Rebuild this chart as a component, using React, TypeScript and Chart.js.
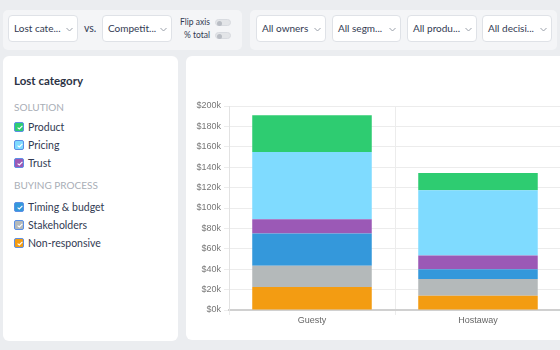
import React, { useEffect, useRef } from "react";
import { Chart, registerables } from "chart.js";

Chart.register(...registerables);

const categories = ["Guesty", "Hostaway"];
const nonResponsive = [22500, 14000];
const stakeholders = [21000, 16400];
const timingBudget = [31500, 9600];
const trust = [14000, 13400];
const pricing = [66000, 64000];
const product = [36000, 17000];

const seriesNames = ["Non-responsive", "Stakeholders", "Timing & budget", "Trust", "Pricing", "Product"];
const seriesColors = ["#f39c12", "#b4b9ba", "#3498db", "#9b59b6", "#7fdbff", "#2ecc71"];
const yMax = 200000;
const yStep = 20000;

const dropdownsLeft = ["Lost cate...", "Competit..."];
const dropdownsRight = ["All owners", "All segm...", "All produ...", "All decisi..."];

const solutionItems = [
  { name: "Product", color: "#2ecc71" },
  { name: "Pricing", color: "#7fdbff" },
  { name: "Trust", color: "#9b59b6" },
];
const buyingItems = [
  { name: "Timing & budget", color: "#3498db" },
  { name: "Stakeholders", color: "#b4b9ba" },
  { name: "Non-responsive", color: "#f39c12" },
];

const UI_FONT = "Lato, 'Open Sans', sans-serif";

function Chevron({ x, y }: { x: number; y: number }) {
  return (
    <svg style={{ position: "absolute", left: x, top: y }} width={7} height={5} viewBox="0 0 7 5">
      <polyline points="0.5,1 3.5,4 6.5,1" fill="none" stroke="#9aa0aa" strokeWidth={1} />
    </svg>
  );
}

function Dropdown({ left, top, width, text }: { left: number; top: number; width: number; text: string }) {
  return (
    <div
      style={{
        position: "absolute",
        left,
        top,
        width,
        height: 27,
        boxSizing: "border-box",
        background: "#fff",
        border: "1px solid #dfe2e7",
        borderRadius: 4,
        fontFamily: UI_FONT,
        fontSize: 10,
        color: "#323a52",
      }}
    >
      <div style={{ position: "absolute", left: 5, top: 0, lineHeight: "25px", whiteSpace: "nowrap" }}>{text}</div>
      <Chevron x={width - 13} y={11} />
    </div>
  );
}

function Toggle({ left, top }: { left: number; top: number }) {
  return (
    <div
      style={{
        position: "absolute",
        left,
        top,
        width: 16,
        height: 7,
        borderRadius: 4,
        background: "#e3e5e8",
        border: "1px solid #d8dbe0",
        boxSizing: "border-box",
      }}
    >
      <div
        style={{
          position: "absolute",
          left: 1,
          top: 0.5,
          width: 5,
          height: 5,
          borderRadius: 3,
          background: "#b9bdc4",
        }}
      />
    </div>
  );
}

function CheckItem({ top, name, color }: { top: number; name: string; color: string }) {
  return (
    <div style={{ position: "absolute", left: 14, top: top - 6, height: 12, whiteSpace: "nowrap" }}>
      <div
        style={{
          position: "absolute",
          left: 0,
          top: 1,
          width: 10,
          height: 10,
          boxSizing: "border-box",
          borderRadius: 2,
          background: color,
          border: "1px solid #5b8fe6",
        }}
      >
        <svg style={{ position: "absolute", left: 1.5, top: 2 }} width={6} height={5} viewBox="0 0 6 5">
          <polyline points="0.6,2.6 2.3,4 5.4,0.8" fill="none" stroke="#fff" strokeWidth={1.1} />
        </svg>
      </div>
      <div
        style={{
          position: "absolute",
          left: 14,
          top: 0,
          lineHeight: "12px",
          fontFamily: UI_FONT,
          fontSize: 10.5,
          color: "#323a52",
        }}
      >
        {name}
      </div>
    </div>
  );
}

function BarChart() {
  const ref = useRef<HTMLCanvasElement>(null);
  useEffect(() => {
    if (!ref.current) return;
    const values = [nonResponsive, stakeholders, timingBudget, trust, pricing, product];
    const chart = new Chart(ref.current, {
      type: "bar",
      data: {
        labels: categories,
        datasets: values.map((v, i) => ({
          label: seriesNames[i],
          data: v,
          backgroundColor: seriesColors[i],
          borderWidth: 0,
          categoryPercentage: 0.8,
          barPercentage: 0.9,
        })),
      },
      options: {
        responsive: false,
        animation: false,
        devicePixelRatio: 1,
        layout: { padding: { top: 50, right: 25, left: 0, bottom: 0 } },
        plugins: { legend: { display: false }, tooltip: { enabled: false } },
        scales: {
          x: {
            stacked: true,
            grid: { color: "#ececec", tickLength: 5, offset: true },
            border: { color: "#d0d0d0", width: 2 },
            ticks: {
              font: { size: 9, family: "'Liberation Sans', Arial, sans-serif" },
              color: "#666",
              padding: 0,
            },
            afterFit: (s: any) => {
              s.height = 30;
            },
          },
          y: {
            stacked: true,
            min: 0,
            max: yMax,
            grid: { color: "#ececec", tickLength: 5 },
            border: { color: "#e2e2e2", width: 1 },
            ticks: {
              stepSize: yStep,
              font: { size: 9, family: "'Liberation Sans', Arial, sans-serif" },
              color: "#777",
              padding: 3,
              callback: (v: any) => `$${Number(v) / 1000}k`,
            },
            afterFit: (s: any) => {
              s.width = 43;
            },
          },
        },
      },
    });
    return () => chart.destroy();
  }, []);
  return <canvas ref={ref} width={400} height={284} style={{ position: "absolute", left: 0, top: 0 }} />;
}

export default function App() {
  return (
    <div
      style={{
        position: "fixed",
        left: 0,
        top: 0,
        width: 560,
        height: 350,
        overflow: "hidden",
        background: "#ebedf0",
      }}
    >
      {/* Toolbar left */}
      <div
        style={{
          position: "absolute",
          left: 3,
          top: 10,
          width: 239,
          height: 40,
          background: "#f4f5f7",
          borderRadius: 5,
        }}
      >
        <Dropdown left={5} top={5} width={70} text={dropdownsLeft[0]} />
        <div
          style={{
            position: "absolute",
            left: 81,
            top: 5,
            lineHeight: "27px",
            fontFamily: UI_FONT,
            fontSize: 10.5,
            color: "#323a52",
          }}
        >
          vs.
        </div>
        <Dropdown left={99} top={5} width={70} text={dropdownsLeft[1]} />
        <div
          style={{
            position: "absolute",
            right: 32,
            top: 6,
            lineHeight: "12px",
            fontFamily: UI_FONT,
            fontSize: 8.5,
            color: "#323a52",
            textAlign: "right",
            whiteSpace: "nowrap",
          }}
        >
          Flip axis
        </div>
        <div
          style={{
            position: "absolute",
            right: 32,
            top: 19,
            lineHeight: "12px",
            fontFamily: UI_FONT,
            fontSize: 8.5,
            color: "#323a52",
            textAlign: "right",
            whiteSpace: "nowrap",
          }}
        >
          % total
        </div>
        <Toggle left={212} top={9} />
        <Toggle left={212} top={22} />
      </div>

      {/* Toolbar right */}
      <div
        style={{
          position: "absolute",
          left: 250,
          top: 10,
          width: 307,
          height: 40,
          background: "#f4f5f7",
          borderRadius: 5,
        }}
      >
        <Dropdown left={6} top={5} width={70} text={dropdownsRight[0]} />
        <Dropdown left={82} top={5} width={69} text={dropdownsRight[1]} />
        <Dropdown left={157} top={5} width={70} text={dropdownsRight[2]} />
        <Dropdown left={232} top={5} width={70} text={dropdownsRight[3]} />
      </div>

      {/* Left panel */}
      <div
        style={{
          position: "absolute",
          left: 3,
          top: 56,
          width: 175,
          height: 285,
          background: "#fff",
          borderRadius: 6,
        }}
      >
        <div
          style={{
            position: "absolute",
            left: 11,
            top: 80.5 - 56 - 7,
            lineHeight: "14px",
            fontFamily: UI_FONT,
            fontSize: 11.5,
            fontWeight: 700,
            color: "#2c3345",
            whiteSpace: "nowrap",
          }}
        >
          Lost category
        </div>
        <div
          style={{
            position: "absolute",
            left: 11,
            top: 106.5 - 56 - 6,
            lineHeight: "12px",
            fontFamily: UI_FONT,
            fontSize: 10,
            color: "#a9aeb6",
            whiteSpace: "nowrap",
          }}
        >
          SOLUTION
        </div>
        {solutionItems.map((it, i) => (
          <div key={it.name} style={{ position: "absolute", left: -3, top: 0 }}>
            <CheckItem top={[127, 145, 163][i] - 56} name={it.name} color={it.color} />
          </div>
        ))}
        <div
          style={{
            position: "absolute",
            left: 11,
            top: 185 - 56 - 6,
            lineHeight: "12px",
            fontFamily: UI_FONT,
            fontSize: 10,
            color: "#a9aeb6",
            whiteSpace: "nowrap",
          }}
        >
          BUYING PROCESS
        </div>
        {buyingItems.map((it, i) => (
          <div key={it.name} style={{ position: "absolute", left: -3, top: 0 }}>
            <CheckItem top={[207, 225, 243][i] - 56} name={it.name} color={it.color} />
          </div>
        ))}
      </div>

      {/* Chart card */}
      <div
        style={{
          position: "absolute",
          left: 186,
          top: 56,
          width: 420,
          height: 284,
          background: "#fff",
          borderRadius: 6,
          overflow: "hidden",
        }}
      >
        <BarChart />
      </div>
    </div>
  );
}
